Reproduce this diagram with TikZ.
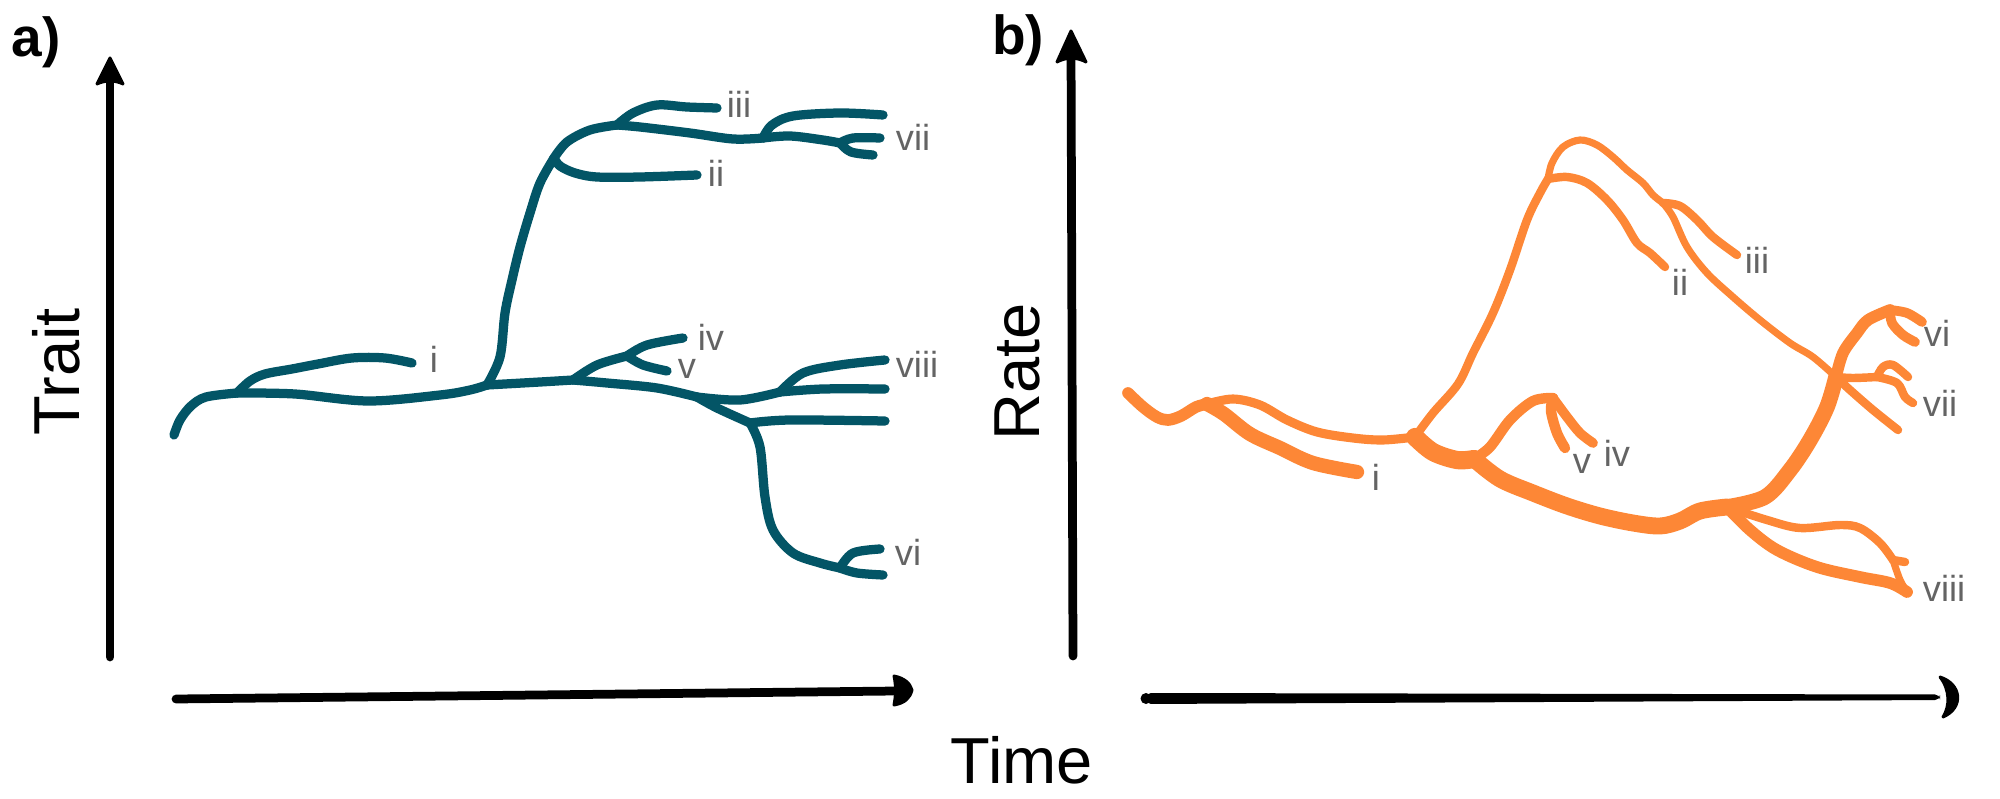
\documentclass[tikz,border=0pt]{standalone}
\usepackage{fontspec}
\setmainfont{Liberation Sans}
\definecolor{tealc}{RGB}{3,85,102}
\definecolor{orangec}{RGB}{253,135,54}
\definecolor{grayc}{RGB}{100,100,100}
\begin{document}
\begin{tikzpicture}[x=0.4pt,y=-0.4pt,
  tA/.style={draw=tealc, line width=3.7pt, line cap=round, line join=round},
  tB/.style={draw=orangec, line width=#1*0.52pt, line cap=round, line join=round},
  tB/.default=6,
  lab/.style={text=grayc, font=\fontsize{14.5}{14.5}\selectfont, inner sep=0pt},
  axlab/.style={font=\fontsize{26}{26}\selectfont, inner sep=0pt},
  plab/.style={font=\fontsize{22}{22}\selectfont\bfseries, inner sep=0pt},
  ax/.style={draw=black, line width=3.5pt, line cap=round},
  axhead/.style={fill=black, draw=black, line width=1.2pt, line join=round},
  sm/.style={smooth, tension=0.55}]
\useasboundingbox (0,0) rectangle (2000,799);

% ---------------- panel labels and axis titles
\node[plab] (pa) at (36,42) {a)};
\node[plab] (pb) at (1018,40) {b)};
\node[axlab, rotate=90] (trait) at (56,372) {Trait};
\node[axlab, rotate=90] (rate) at (1017,372) {Rate};
\node[axlab] (time) at (1022,760) {Time};

% ---------------- axes panel a
\coordinate (ayb) at (110,657);
\coordinate (ayt) at (110,72);
\draw[ax] (ayb) -- (ayt);
\fill[axhead] (110,58) -- (123,84) .. controls (115,80) and (105,80) .. (97,84) -- cycle;
\coordinate (axl) at (176,699);
\coordinate (axr) at (896,691);
\draw[ax] (axl) -- (axr);
\fill[axhead] (912,690) .. controls (910,698) and (905,703) .. (894,705) .. controls (896,695) and (896,685) .. (894,676) .. controls (904,678) and (910,683) .. (912,690) -- cycle;

% ---------------- axes panel b
\coordinate (byb) at (1073,656);
\coordinate (byt) at (1071,46);
\draw[ax] (byb) -- (byt);
\fill[axhead] (1071,31) -- (1086,62) .. controls (1077,57) and (1066,57) .. (1057,62) -- cycle;
\coordinate (bxl) at (1150,698);
\coordinate (bxr) at (1940,697);
\fill[black, rounded corners=2pt] (1146,693) -- (1940,694.5) -- (1940,700) -- (1146,704) -- cycle;
\fill[black] (1146,698.5) circle[radius=5.5];
\fill[axhead] (1940,677) .. controls (1962,684) and (1964,708) .. (1943,717) .. controls (1950,706) and (1950,690) .. (1940,677) -- cycle;

% ---------------- tree a (teal)
\coordinate (a0) at (174,435);
\coordinate (aA) at (237,393);
\coordinate (aB) at (487,385);
\coordinate (aC) at (554,158);
\coordinate (aD) at (617,125);
\coordinate (aE) at (763,138);
\coordinate (aF) at (840,143);
\coordinate (aH0) at (573,380);
\coordinate (aH) at (627,356);
\coordinate (aG) at (697,397);
\coordinate (aI) at (780,392);
\coordinate (aJ) at (750,423);
\coordinate (aK) at (840,568);
\coordinate (ai) at (412,363);
\coordinate (aii) at (697,175);
\coordinate (aiii) at (717,108);
\coordinate (avii1) at (883,115);
\coordinate (avii2) at (880,138);
\coordinate (avii3) at (873,155);
\coordinate (aiv) at (683,338);
\coordinate (av) at (667,371);
\coordinate (aviii1) at (885,360);
\coordinate (aviii2) at (885,389);
\coordinate (aviii3) at (885,421);
\coordinate (avi1) at (880,549);
\coordinate (avi2) at (883,575);

\draw[tA] plot[sm] coordinates {(a0) (180,420) (191,406) (206,397) (aA)};
\draw[tA] plot[sm] coordinates {(aA) (250,381) (265,374) (292,369) (318,364) (352,358) (385,358) (ai)};
\draw[tA] plot[sm] coordinates {(aA) (295,394) (368,401) (440,395) (470,390) (aB)};
\draw[tA] plot[sm] coordinates {(aB) (500,357) (505,313) (512,280) (520,247) (530,213) (540,183) (aC)};
\draw[tA] plot[sm] coordinates {(aC) (560,166) (575,173) (597,177) (640,177) (aii)};
\draw[tA] plot[sm] coordinates {(aC) (567,142) (590,130) (aD)};
\draw[tA] plot[sm] coordinates {(aD) (633,113) (657,105) (687,107) (aiii)};
\draw[tA] plot[sm] coordinates {(aD) (640,127) (690,133) (733,139) (aE)};
\draw[tA] plot[sm] coordinates {(aE) (772,125) (793,116) (840,113) (avii1)};
\draw[tA] plot[sm] coordinates {(aE) (790,136) (823,140) (aF)};
\draw[tA] plot[sm] coordinates {(aF) (853,138) (avii2)};
\draw[tA] plot[sm] coordinates {(aF) (851,152) (avii3)};
\draw[tA] plot[sm] coordinates {(aB) (540,382) (aH0)};
\draw[tA] plot[sm] coordinates {(aH0) (597,365) (aH)};
\draw[tA] plot[sm] coordinates {(aH) (647,345) (aiv)};
\draw[tA] plot[sm] coordinates {(aH) (643,365) (av)};
\draw[tA] plot[sm] coordinates {(aH0) (607,383) (657,388) (aG)};
\draw[tA] plot[sm] coordinates {(aG) (740,400) (aI)};
\draw[tA] plot[sm] coordinates {(aI) (803,373) (840,365) (aviii1)};
\draw[tA] plot[sm] coordinates {(aI) (823,389) (aviii2)};
\draw[tA] plot[sm] coordinates {(aG) (717,408) (aJ)};
\draw[tA] plot[sm] coordinates {(aJ) (790,420) (aviii3)};
\draw[tA] plot[sm] coordinates {(aJ) (760,447) (765,497) (773,530) (793,553) (820,563) (aK)};
\draw[tA] plot[sm] coordinates {(aK) (853,553) (avi1)};
\draw[tA] plot[sm] coordinates {(aK) (857,573) (avi2)};

\node[lab] (la-i) at (434,359) {i};
\node[lab] (la-ii) at (716,173) {ii};
\node[lab] (la-iii) at (739,104) {iii};
\node[lab] (la-iv) at (711,337) {iv};
\node[lab] (la-v) at (687,369) {v};
\node[lab] (la-vi) at (908,552) {vi};
\node[lab] (la-vii) at (913,137) {vii};
\node[lab] (la-viii) at (917,364) {viii};

% ---------------- tree b (orange)
\coordinate (b0) at (1128,393);
\coordinate (bA) at (1207,404);
\coordinate (bB) at (1415,437);
\coordinate (bC) at (1548,179);
\coordinate (bD) at (1663,203);
\coordinate (bE) at (1836,377);
\coordinate (bF) at (1727,507);
\coordinate (bG) at (1890,310);
\coordinate (bH) at (1877,377);
\coordinate (bL) at (1474,459);
\coordinate (bM) at (1553,398);
\coordinate (bN) at (1893,560);
\coordinate (bi) at (1357,472);
\coordinate (bii) at (1665,267);
\coordinate (biii) at (1737,255);
\coordinate (bvi1) at (1922,322);
\coordinate (bvi2) at (1915,342);
\coordinate (bvii1) at (1908,377);
\coordinate (bvii2) at (1913,403);
\coordinate (bvii3) at (1898,430);
\coordinate (biv) at (1593,443);
\coordinate (bv) at (1565,448);
\coordinate (bviii1) at (1905,562);
\coordinate (bviii2) at (1907,592);

\draw[tB=9] plot[sm] coordinates {(b0) (1143,407) (1157,417) (1168,420) (1181,416) (1196,407) (bA)};
\draw[tB=7] plot[sm] coordinates {(bA) (1233,399) (1260,405) (1287,420) (1317,432) (1353,438) (1383,440) (bB)};
\draw[tB=11] plot[sm] coordinates {(bA) (1224,414) (1250,434) (1280,448) (1313,463) (bi)};
\draw[tB=6.5] plot[sm] coordinates {(bB) (1433,413) (1458,384) (1473,353) (1493,313) (1510,270) (1527,220) (1540,193) (bC)};
\draw[tB=6.5] plot[sm] coordinates {(bC) (1567,177) (1587,183) (1607,200) (1623,220) (1637,243) (1650,253) (bii)};
\draw[tB=5.5] plot[sm] coordinates {(bC) (1552,163) (1563,147) (1580,140) (1597,145) (1613,157) (1627,170) (1643,183) (1653,195) (bD)};
\draw[tB=6.5] plot[sm] coordinates {(bD) (1680,206) (1697,220) (1713,237) (biii)};
\draw[tB=5.5] plot[sm] coordinates {(bD) (1673,217) (1687,247) (1707,273) (1733,297) (1760,320) (1790,343) (1813,357) (bE)};
\draw[tB=14] plot[sm] coordinates {(bB) (1433,452) (1457,460) (bL)};
\draw[tB=8] plot[sm] coordinates {(bL) (1490,447) (1510,420) (1533,401) (bM)};
\draw[tB=8] plot[sm] coordinates {(bM) (1551,411) (1557,433) (bv)};
\draw[tB=7.5] plot[sm] coordinates {(bM) (1567,417) (1580,433) (biv)};
\draw[tB=13] plot[sm] coordinates {(bL) (1500,479) (1533,493) (1567,506) (1600,516) (1633,523) (1660,526) (1680,521) (1700,511) (bF)};
\draw[tB=12] plot[sm] coordinates {(bF) (1765,497) (1790,470) (1810,440) (1827,407) (bE)};
\draw[tB=9] plot[sm] coordinates {(bE) (1843,353) (1857,333) (1868,320) (bG)};
\draw[tB=7.5] plot[sm] coordinates {(bG) (1907,313) (bvi1)};
\draw[tB=7.5] plot[sm] coordinates {(bG) (1892,323) (1903,335) (bvi2)};
\draw[tB=6.5] plot[sm] coordinates {(bE) (1853,378) (bH)};
\draw[tB=6.5] plot[sm] coordinates {(bH) (1883,367) (1893,365) (bvii1)};
\draw[tB=6.5] plot[sm] coordinates {(bH) (1897,383) (1905,397) (bvii2)};
\draw[tB=6.5] plot[sm] coordinates {(bE) (1850,390) (1873,410) (bvii3)};
\draw[tB=6.5] plot[sm] coordinates {(bF) (1767,520) (1800,528) (1840,525) (1860,528) (1880,543) (bN)};
\draw[tB=6.5] plot[sm] coordinates {(bN) (bviii1)};
\draw[tB=5.5] plot[sm] coordinates {(bN) (1900,580) (bviii2)};
\draw[tB=9] plot[sm] coordinates {(bF) (1750,530) (1777,550) (1817,567) (1860,577) (1890,583) (bviii2)};

\node[lab] (lb-i) at (1376,477) {i};
\node[lab] (lb-ii) at (1680,282) {ii};
\node[lab] (lb-iii) at (1757,260) {iii};
\node[lab] (lb-iv) at (1617,453) {iv};
\node[lab] (lb-v) at (1582,464) {v};
\node[lab] (lb-vi) at (1937,333) {vi};
\node[lab] (lb-vii) at (1940,403) {vii};
\node[lab] (lb-viii) at (1944,588) {viii};
\end{tikzpicture}
\end{document}
